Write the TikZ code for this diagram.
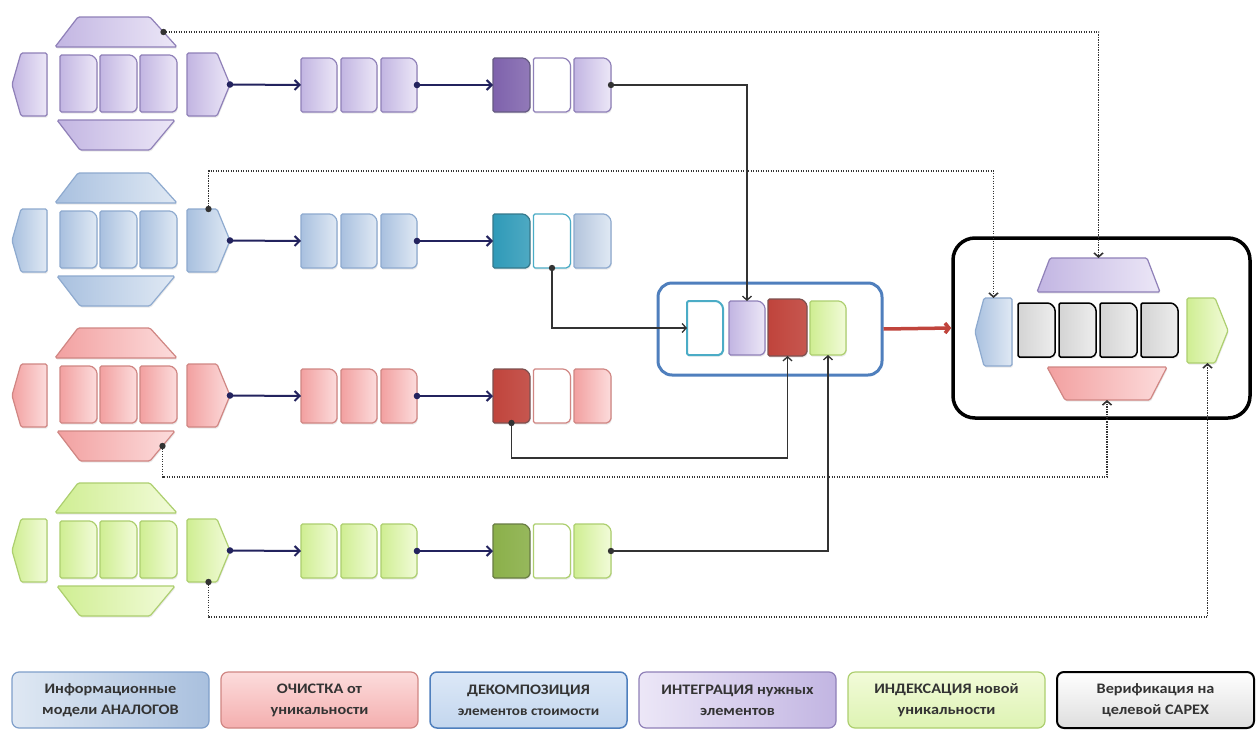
\documentclass[tikz,border=0pt]{standalone}
\usepackage{fontspec}
\setmainfont{Carlito}
\newfontfamily\legfont[FakeStretch=1.12]{Carlito}
\usetikzlibrary{arrows.meta,calc,shadows}

% palette
\definecolor{PurA}{HTML}{C2B5E2}\definecolor{PurB}{HTML}{ECE7F7}\definecolor{PurE}{HTML}{8F80B8}
\definecolor{BluA}{HTML}{A8C0DF}\definecolor{BluB}{HTML}{E0E9F4}\definecolor{BluE}{HTML}{8EAACF}
\definecolor{RedA}{HTML}{F2A0A0}\definecolor{RedB}{HTML}{FCDCDC}\definecolor{RedE}{HTML}{D08683}
\definecolor{GrnA}{HTML}{CFEE92}\definecolor{GrnB}{HTML}{F2FBD9}\definecolor{GrnE}{HTML}{ADCF6F}
\definecolor{Navy}{HTML}{23235E}
\definecolor{Link}{HTML}{333333}
\definecolor{IntE}{HTML}{4F7FBD}
\definecolor{Teal}{HTML}{4BACC6}
\definecolor{LegTxt}{HTML}{333333}
\definecolor{HTMLpd}{HTML}{7E62AC}
\definecolor{HTMLrd}{HTML}{C0443C}
\definecolor{HTMLgd}{HTML}{8BB04A}
\definecolor{HTMLtd}{HTML}{2F9AB8}
\definecolor{HTMLbg}{HTML}{B3C4DC}
\definecolor{HTMLlg1a}{HTML}{DFE8F3}
\definecolor{HTMLlg1b}{HTML}{A9C0DE}
\definecolor{HTMLlg1e}{HTML}{7F9FCA}
\definecolor{HTMLlg3a}{HTML}{DCE8F7}
\definecolor{HTMLlg3b}{HTML}{C3D6EE}

\tikzset{
  anchorbox/.style={inner sep=0pt,outer sep=0pt,rectangle,draw=none,fill=none},
  shp/.style={line width=1.2pt,rounded corners=1.5pt,
    drop shadow={shadow xshift=0.8pt,shadow yshift=-1.6pt,opacity=0.16}},
  purp/.style={shp,draw=PurE,left color=PurA,right color=PurB},
  blu/.style={shp,draw=BluE,left color=BluA,right color=BluB},
  rd/.style={shp,draw=RedE,left color=RedA,right color=RedB},
  grn/.style={shp,draw=GrnE,left color=GrnA,right color=GrnB},
  gry/.style={shp,draw=black,line width=1.5pt,left color=black!17,right color=black!7},
  pdark/.style={shp,draw=PurE!70!black,left color=HTMLpd,right color=HTMLpd!85!white},
  rdark/.style={shp,draw=RedE!60!black,left color=HTMLrd,right color=HTMLrd!90!white},
  gdark/.style={shp,draw=GrnE!60!black,left color=HTMLgd,right color=HTMLgd!90!white},
  bdark/.style={shp,draw=Teal!70!black,left color=HTMLtd,right color=HTMLtd!85!white},
  pwhite/.style={shp,draw=PurE,fill=white},
  rwhite/.style={shp,draw=RedE,fill=white},
  gwhite/.style={shp,draw=GrnE,fill=white},
  bwhite/.style={shp,draw=Teal,fill=white},
  bgray/.style={shp,draw=BluE,left color=HTMLbg,right color=BluB},
  tealo/.style={shp,draw=Teal,line width=2pt,fill=white},
  flow/.style={draw=Navy,line width=2pt,-{Straight Barb[length=5pt,width=10pt]}},
  feed/.style={draw=Link,line width=1.3pt,-{Straight Barb[length=4pt,width=9pt]}},
  ret/.style={draw=Link,line width=1.6pt,dash pattern=on 1.2pt off 1.3pt,-{Straight Barb[length=4pt,width=9pt]}},
  bigred/.style={draw=HTMLrd,line width=3.5pt,-{Straight Barb[length=4pt,width=10pt]}},
  lg/.style={rounded corners=7pt,minimum width=197pt,minimum height=56pt,align=center,
    inner sep=2pt,font=\legfont\bfseries\fontsize{14.5}{21}\selectfont,text=LegTxt,line width=1.2pt},
}

% D-shaped block: name, x left, x right, y top, y bottom, style
\newcommand\Dsh[6]{%
  \path[#6] ({#2},{#5}) -- ({#2},{#4}) -- ({(#3)-9},{#4})
     .. controls ({(#3)-4},{#4}) and ({#3},{(#4)+4}) .. ({#3},{(#4)+9})
     -- ({#3},{(#5)-6}) .. controls ({#3},{(#5)-2.5}) and ({(#3)-2.5},{#5}) .. ({(#3)-6},{#5}) -- cycle;
  \node[anchorbox,minimum width={(#3)-(#2)},minimum height={(#5)-(#4)}] (#1) at ({((#2)+(#3))/2},{((#4)+(#5))/2}) {};}
% block pointing left: name, x tip, x right, y top, y bottom, style
\newcommand\Lsh[6]{%
  \path[#6] ({#3},{#4}) -- ({(#2)+9},{#4}) -- ({#2},{((#4)+(#5))/2}) -- ({(#2)+9},{#5}) -- ({#3},{#5}) -- cycle;
  \node[anchorbox,minimum width={(#3)-(#2)},minimum height={(#5)-(#4)}] (#1) at ({((#2)+(#3))/2},{((#4)+(#5))/2}) {};}
% block pointing right: name, x left, x tip, y top, y bottom, style
\newcommand\Rsh[6]{%
  \path[#6] ({#2},{#4}) -- ({(#3)-13},{#4}) -- ({#3},{((#4)+(#5))/2}) -- ({(#3)-13},{#5}) -- ({#2},{#5}) -- cycle;
  \node[anchorbox,minimum width={(#3)-(#2)},minimum height={(#5)-(#4)}] (#1) at ({((#2)+(#3))/2},{((#4)+(#5))/2}) {};}
% trapezoid: name, top left x, top right x, bottom left x, bottom right x, y top, y bottom, style
\newcommand\Tsh[8]{%
  \path[#8] ({#2},{#6}) -- ({#3},{#6}) -- ({#5},{#7}) -- ({#4},{#7}) -- cycle;
  \node[anchorbox,minimum width={max(#3,#5)-min(#2,#4)},minimum height={(#7)-(#6)}]
     (#1) at ({(min(#2,#4)+max(#3,#5))/2},{((#6)+(#7))/2}) {};
  \coordinate (#1-re) at ({((#3)+(#5))/2},{((#6)+(#7))/2});}
% three D blocks in a row: prefix, cy, x0, width, step, styles
\newcommand\Triple[8]{%
  \Dsh{#1a}{#3}{(#3)+(#4)}{(#2)-27}{(#2)+27}{#6}
  \Dsh{#1b}{(#3)+(#5)}{(#3)+(#5)+(#4)}{(#2)-27}{(#2)+27}{#7}
  \Dsh{#1c}{(#3)+2*(#5)}{(#3)+2*(#5)+(#4)}{(#2)-27}{(#2)+27}{#8}}
% analogue model cluster: prefix, cy, style
\newcommand\Cluster[3]{%
  \Tsh{#1T}{78}{150}{55}{177}{(#2)-68}{(#2)-38}{#3}
  \Tsh{#1U}{57}{175}{80}{150}{(#2)+35}{(#2)+65}{#3}
  \Lsh{#1L}{12}{47}{(#2)-32}{(#2)+31}{#3}
  \Dsh{#1a}{60}{97}{(#2)-30}{(#2)+27}{#3}
  \Dsh{#1b}{100}{137}{(#2)-30}{(#2)+27}{#3}
  \Dsh{#1c}{140}{177}{(#2)-30}{(#2)+27}{#3}
  \Rsh{#1R}{187}{230}{(#2)-32}{(#2)+31}{#3}}
% row flow arrows
\newcommand\RowFlow[1]{%
  \draw[flow] (#1R.east) -- (#12a.west);
  \draw[flow] (#12c.east) -- (#13a.west);
  \fill[Navy] (#1R.east) circle (3.3pt);
  \fill[Navy] (#12c.east) circle (3.3pt);}

\begin{document}
\begin{tikzpicture}[x=1pt,y=-1pt]
\useasboundingbox (0,0) rectangle (1258,734);
\fill[white] (0,0) rectangle (1258,734);

% analogue clusters
\Cluster{p}{85}{purp}
\Cluster{b}{241}{blu}
\Cluster{r}{396}{rd}
\Cluster{g}{551}{grn}

% cleaned models
\Triple{p2}{85}{301}{36}{40}{purp}{purp}{purp}
\Triple{b2}{241}{301}{36}{40}{blu}{blu}{blu}
\Triple{r2}{396}{301}{36}{40}{rd}{rd}{rd}
\Triple{g2}{551}{301}{36}{40}{grn}{grn}{grn}

% decomposed elements
\Triple{p3}{85}{493}{37}{40.5}{pdark}{pwhite}{purp}
\Triple{b3}{241}{493}{37}{40.5}{bdark}{bwhite}{bgray}
\Triple{r3}{396}{493}{37}{40.5}{rdark}{rwhite}{rd}
\Triple{g3}{551}{493}{37}{40.5}{gdark}{gwhite}{grn}

\RowFlow{p}
\RowFlow{b}
\RowFlow{r}
\RowFlow{g}

% integration group
\node[draw=IntE,line width=3pt,rounded corners=14pt,minimum width=224pt,minimum height=92pt,inner sep=0pt] (ig) at (770,329) {};
\Dsh{igT}{687}{723}{301}{355}{tealo}
\Dsh{igP}{729}{765}{301}{355}{purp}
\Dsh{igR}{768}{807}{299}{356}{rdark}
\Dsh{igG}{810}{846}{301}{355}{grn}

% target model
\node[draw=black,line width=3.5pt,rounded corners=22pt,minimum width=297pt,minimum height=180pt,inner sep=0pt] (fin) at (1101.5,328) {};
\Lsh{fB}{975}{1012}{298}{366}{blu}
\Dsh{fa}{1018}{1055}{303}{357}{gry}
\Dsh{fb}{1059}{1096}{303}{357}{gry}
\Dsh{fc}{1100}{1137}{303}{357}{gry}
\Dsh{fd}{1141}{1178}{303}{357}{gry}
\Tsh{fP}{1050}{1147}{1037}{1160}{258}{292}{purp}
\Tsh{fK}{1047}{1167}{1065}{1150}{367}{400}{rd}
\Rsh{fG}{1187}{1228}{298}{363}{grn}

% element feeds into integration
\draw[feed] (p3c.east) -| (igP.north);
\draw[feed] (b3b.south) |- (igT.west);
\draw[feed] (r3a.south) -- ++(0,35) -| (igR.south);
\draw[feed] (g3c.east) -| (igG.south);
\fill[Link] (p3c.east) circle (3.2pt);
\fill[Link] (b3b.south) circle (3.2pt);
\fill[Link] (r3a.south) circle (3.2pt);
\fill[Link] (g3c.east) circle (3.2pt);

\draw[bigred] (ig.east) -- (fin.west);

% verification links
\draw[ret] (pT-re) -| (fP.north);
\draw[ret] (bR.north) -- ++(0,-38) -| (fB.north);
\draw[ret] (rU-re) -- ++(0,31) -| (fK.south);
\draw[ret] (gR.south) -- ++(0,35) -| (fG.south);
\fill[Link] (pT-re) circle (3.2pt);
\fill[Link] (bR.north) circle (3.2pt);
\fill[Link] (rU-re) circle (3.2pt);
\fill[Link] (gR.south) circle (3.2pt);

% legend
\node[lg,draw=HTMLlg1e,left color=HTMLlg1a,right color=HTMLlg1b] (k1) at (110.5,700) {Информационные\\модели АНАЛОГОВ};
\node[lg,draw=RedE,top color=RedB,bottom color=RedA!85] (k2) at (319.5,700) {ОЧИСТКА от\\уникальности};
\node[lg,draw=IntE,line width=1.5pt,top color=HTMLlg3a,bottom color=HTMLlg3b] (k3) at (528.5,700) {ДЕКОМПОЗИЦИЯ\\{\fontsize{13.5}{20}\selectfont элементов стоимости}};
\node[lg,draw=PurE,left color=PurB,right color=PurA] (k4) at (737.5,700) {ИНТЕГРАЦИЯ нужных\\элементов};
\node[lg,draw=GrnE,top color=GrnB,bottom color=GrnA!70] (k5) at (946.5,700) {ИНДЕКСАЦИЯ новой\\уникальности};
\node[lg,draw=black,line width=2pt,top color=white,bottom color=black!13] (k6) at (1155.5,700) {Верификация на\\целевой CAPEX};
\end{tikzpicture}
\end{document}
